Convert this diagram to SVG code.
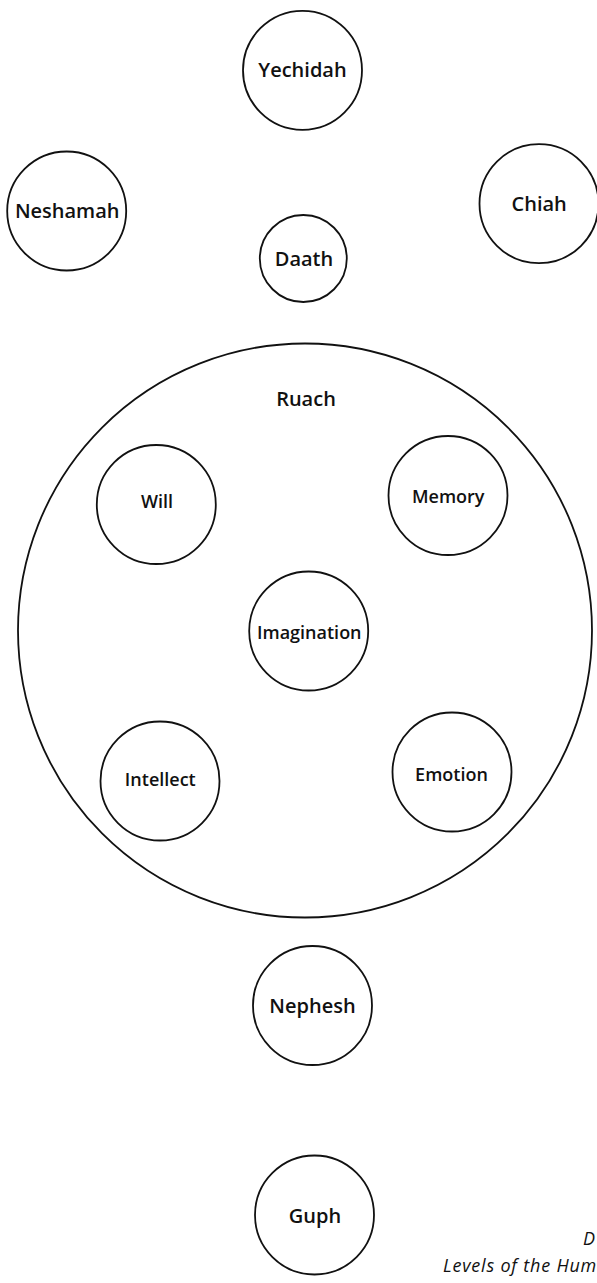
<svg xmlns="http://www.w3.org/2000/svg" width="597" height="1283" viewBox="0 0 597 1283">
  <style>
    .c { fill: none; stroke: #111; stroke-width: 1.8; }
    .big { fill: none; stroke: #111; stroke-width: 1.8; }
    .t { font-family: "Open Sans", "Noto Sans", sans-serif; font-weight: 600; font-size: 20px; fill: #111; text-anchor: middle; }
    .s { font-family: "Open Sans", "Noto Sans", sans-serif; font-weight: 600; font-size: 18px; fill: #111; text-anchor: middle; }
    .cap { font-family: "Open Sans", "Noto Sans", sans-serif; font-style: italic; font-size: 18px; letter-spacing: 0.8px; fill: #111; }
  </style>
  <rect width="597" height="1283" fill="#fff"/>
  <g id="connectors"></g>
  <g id="ruach">
    <circle class="big" cx="305" cy="630.5" r="287"/>
    <text class="t" x="306" y="405.7">Ruach</text>
  </g>
  <g id="yechidah">
    <circle class="c" cx="302.5" cy="70.3" r="59.5"/>
    <text class="t" x="302.5" y="76.5">Yechidah</text>
  </g>
  <g id="neshamah">
    <circle class="c" cx="66.7" cy="211" r="59.5"/>
    <text class="t" x="67.2" y="218.3">Neshamah</text>
  </g>
  <g id="chiah">
    <circle class="c" cx="539" cy="203.7" r="59.5"/>
    <text class="t" x="539.2" y="210.7">Chiah</text>
  </g>
  <g id="daath">
    <circle class="c" cx="303.3" cy="258.5" r="43.5"/>
    <text class="t" x="304" y="265.7">Daath</text>
  </g>
  <g id="will">
    <circle class="c" cx="156.3" cy="504.5" r="59.5"/>
    <text class="s" x="157" y="508.3">Will</text>
  </g>
  <g id="memory">
    <circle class="c" cx="448" cy="495.5" r="59.5"/>
    <text class="s" x="448.2" y="503.3">Memory</text>
  </g>
  <g id="imagination">
    <circle class="c" cx="308.7" cy="631" r="59.5"/>
    <text class="s" x="309.3" y="639">Imagination</text>
  </g>
  <g id="intellect">
    <circle class="c" cx="160" cy="781" r="59.5"/>
    <text class="s" x="160.3" y="785.7">Intellect</text>
  </g>
  <g id="emotion">
    <circle class="c" cx="452" cy="772" r="59.5"/>
    <text class="s" x="451.5" y="780.7">Emotion</text>
  </g>
  <g id="nephesh">
    <circle class="c" cx="312.5" cy="1005.5" r="59.5"/>
    <text class="t" x="312.5" y="1013">Nephesh</text>
  </g>
  <g id="guph">
    <circle class="c" cx="314.5" cy="1215" r="59.5"/>
    <text class="t" x="315" y="1223">Guph</text>
  </g>
  <g id="caption">
    <text class="cap" x="583" y="1245">D</text>
    <text class="cap" x="443" y="1271.7">Levels of the Hum</text>
  </g>
</svg>
